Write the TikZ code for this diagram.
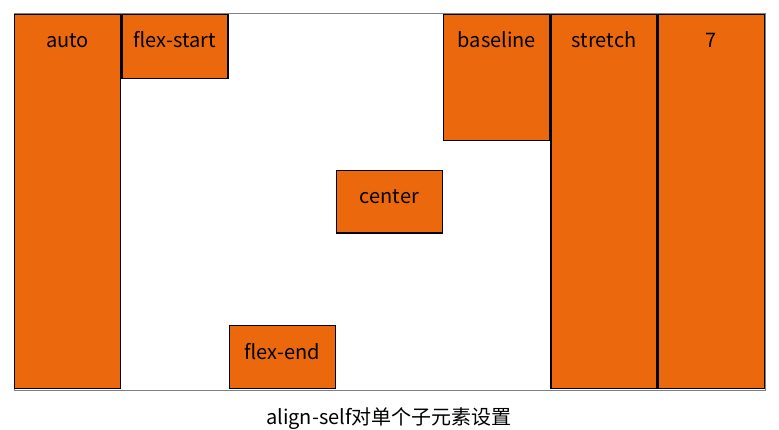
\documentclass[tikz,border=0pt]{standalone}
\usepackage{fontspec}
\setmainfont{Noto Sans CJK SC}
\definecolor{flexorange}{RGB}{235,105,12}
\tikzstyle{item}=[rectangle,draw=black,fill=flexorange,line width=1.3pt,inner sep=0pt,minimum width=106pt,anchor=north west]
\tikzstyle{itemlbl}=[anchor=base,yshift=-34pt,inner sep=0pt,font=\fontsize{20}{22}\selectfont]
\tikzstyle{boxwrap}=[rectangle,draw=black!50,line width=1pt,inner sep=0pt,anchor=north west,minimum width=751pt,minimum height=376pt]

\begin{document}
\begin{tikzpicture}[x=1pt,y=-1pt]
        \useasboundingbox (0,0) rectangle (779,430);
        \draw (13.5,13.5) node[boxwrap](wrap){};
        \draw (13.95,14.0) node[item,minimum height=374,label={[itemlbl]90:auto}](auto){};
        \draw (121.25,14.0) node[item,minimum height=63.6,label={[itemlbl]90:flex-start}](start){};
        \draw (228.55,325.0) node[item,minimum height=63,label={[itemlbl]90:flex-end}](end){};
        \draw (335.85,170.0) node[item,minimum height=62.3,label={[itemlbl]90:center}](center){};
        \draw (443.15,14.0) node[item,minimum height=125.6,label={[itemlbl]90:baseline}](base){};
        \draw (550.45,14.0) node[item,minimum height=374,label={[itemlbl]90:stretch}](stretch){};
        \draw (657.75,14.0) node[item,minimum height=374,label={[itemlbl]90:7}](seven){};
        %
        \draw (389,424) node[anchor=base,inner sep=0pt,font=\fontsize{20}{22}\selectfont](caption){align-self对单个子元素设置};
      \end{tikzpicture}
\end{document}
